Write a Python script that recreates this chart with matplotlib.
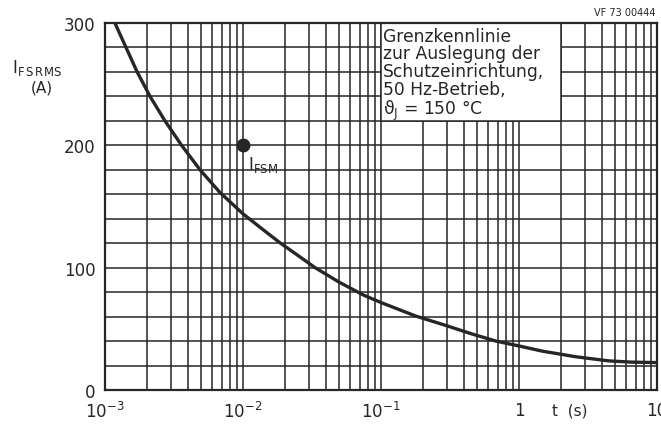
import numpy as np
import matplotlib.pyplot as plt
from matplotlib.patches import Rectangle

# limiting characteristic (t in s, I in A)
t_s = [1.18e-3, 1.42e-3, 1.71e-3, 2.12e-3, 2.72e-3, 3.59e-3, 4.88e-3,
       6.8e-3, 1.0e-2, 1.4e-2, 1.87e-2, 2.5e-2, 3.33e-2, 5e-2, 7.5e-2,
       1e-1, 1.78e-1, 3e-1, 4.5e-1, 6.8e-1, 1.0, 1.47, 2.57, 4.47, 6.5, 10.0]
i_rms = [300, 280, 260, 240, 220, 200, 180,
         161.5, 144, 131, 120, 110, 100, 88, 77.5,
         71.5, 60.5, 52.5, 46, 40, 36, 31.8, 27.2, 23.8, 22.8, 22.4]

ifsm_t = 1e-2
ifsm_i = 200

x_ticks = [1e-3, 1e-2, 1e-1, 1, 10]
x_labels = [r'$10^{-3}$', r'$10^{-2}$', r'$10^{-1}$', '1', '10']
y_ticks = [0, 100, 200, 300]

note_lines = ["Grenzkennlinie", "zur Auslegung der", "Schutzeinrichtung,",
              "50 Hz-Betrieb,", "ϑ$_\\mathrm{J}$ = 150 °C"]

ink = '#262626'

fig = plt.figure(figsize=(6.61, 4.27), dpi=100)
ax = fig.add_axes([105 / 661, 36 / 427, 552 / 661, 367 / 427])

ax.set_xscale('log')
ax.set_xlim(1e-3, 10)
ax.set_ylim(0, 300)

ax.set_yticks(np.arange(0, 301, 20), minor=True)
ax.set_yticks(y_ticks)
ax.set_yticklabels([str(v) for v in y_ticks])
ax.set_xticks(x_ticks)
ax.set_xticklabels(x_labels)
ax.tick_params(which='both', length=0, labelsize=12, colors=ink)
ax.tick_params(axis='x', pad=8)
ax.tick_params(axis='y', pad=7)

ax.grid(which='both', color=ink, linewidth=1.1)
ax.set_axisbelow(True)
for sp in ax.spines.values():
    sp.set_color(ink)
    sp.set_linewidth(1.6)

# legend box blanks out the grid
box = Rectangle((0.1, 220), 1.9, 80, facecolor='white', edgecolor=ink,
                linewidth=1.1, zorder=2)
ax.add_patch(box)
ax.text(0.104, 297, "\n".join(note_lines), fontsize=12.3, color=ink,
        va='top', ha='left', linespacing=0.98, zorder=3)

ax.plot(t_s, i_rms, color=ink, linewidth=2.4, zorder=4, solid_capstyle='round')
ax.plot([ifsm_t], [ifsm_i], 'o', color=ink, markersize=9, zorder=5)
ax.text(1.08e-2, 193, r'$\mathrm{I}_{\mathrm{FSM}}$', fontsize=12, color=ink,
        va='top', ha='left', zorder=5)

fig.text(12 / 661, 1 - 68 / 427, r'$\mathrm{I}_{\mathrm{F\,S\,RMS}}$',
         fontsize=12, color=ink, ha='left', va='center')
fig.text(42 / 661, 1 - 88 / 427, '(A)', fontsize=11, color=ink,
         ha='center', va='center')
fig.text(570 / 661, 1 - 411 / 427, 't  (s)', fontsize=11, color=ink,
         ha='center', va='center')
fig.text(655 / 661, 1 - 13 / 427, 'VF 73 00444', fontsize=7, color=ink,
         ha='right', va='center')

fig.savefig('out.png', dpi=100, facecolor='white')
